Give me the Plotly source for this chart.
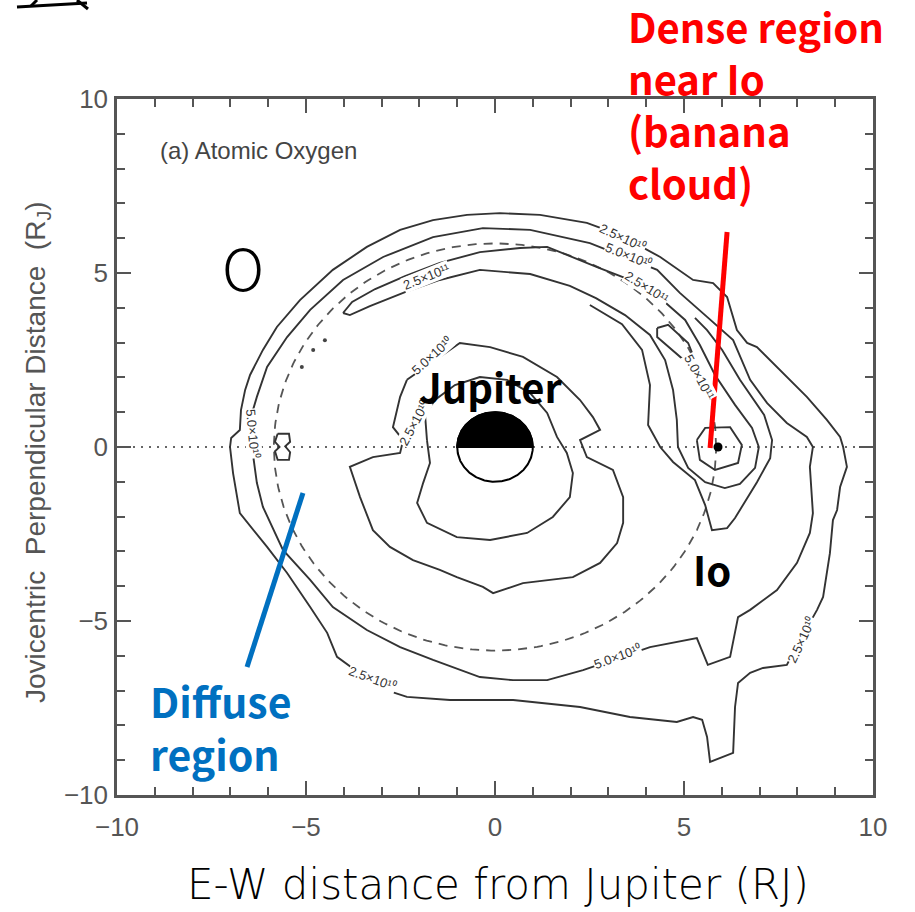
import numpy as np
import plotly.graph_objects as go

# ---- iso-density contours of atomic oxygen (positions in Jupiter radii) ----
# outermost 2.5e10 level
OUTER_25E10 = [(-7.01, 0.00), (-6.98, 0.26), (-6.75, 0.49), (-6.72, 1.06), (-6.61, 1.64), (-6.48, 2.07),
               (-6.14, 2.79), (-5.77, 3.45), (-5.16, 4.22), (-4.29, 5.09), (-3.39, 5.75), (-2.51, 6.24),
               (-1.64, 6.52), (-0.74, 6.67), (0.13, 6.72), (1.19, 6.67), (2.43, 6.44), (3.31, 6.09),
               (4.37, 5.46), (5.24, 4.80), (5.77, 4.71), (6.14, 4.31), (6.40, 3.36), (6.67, 2.99),
               (6.93, 2.87), (7.54, 2.21), (8.25, 1.44), (8.78, 0.78), (9.13, 0.29), (9.21, 0.00),
               (9.31, -0.57), (9.13, -1.15), (9.05, -1.81), (8.94, -2.10), (8.86, -3.05), (8.68, -4.31),
               (8.52, -4.68), (8.07, -5.55), (7.72, -6.26), (7.09, -6.35), (6.75, -6.49), (6.43, -6.78),
               (6.35, -7.47), (6.30, -8.79), (6.16, -8.85), (5.69, -9.05), (5.61, -8.33), (5.48, -7.84),
               (5.24, -7.76), (4.81, -7.90), (3.57, -7.76), (2.25, -7.47), (0.48, -7.27), (-1.19, -7.27),
               (-2.33, -7.18), (-3.04, -6.93), (-4.18, -6.03), (-4.44, -5.34), (-4.89, -4.60),
               (-5.50, -3.62), (-6.03, -2.87), (-6.75, -1.90), (-6.93, -0.75)]

# 5.0e10 level of the torus
TORUS_50E10 = [(-6.43, 0.00), (-6.48, 0.78), (-6.30, 1.44), (-6.03, 2.30), (-5.50, 3.16), (-4.89, 3.94),
               (-4.02, 4.80), (-2.96, 5.46), (-1.64, 6.03), (-0.32, 6.29), (0.93, 6.24), (2.51, 5.86),
               (4.29, 5.09), (4.89, 4.43), (5.61, 3.74), (6.30, 3.07), (6.75, 1.93), (7.20, 1.26),
               (7.72, 0.69), (8.25, 0.29), (8.41, 0.00), (8.33, -0.57), (8.41, -1.90), (8.33, -2.47),
               (7.99, -3.33), (7.46, -4.11), (6.75, -4.68), (6.43, -4.89), (6.22, -6.03), (5.63, -6.26),
               (5.34, -5.49), (4.10, -5.75), (2.33, -6.41), (1.38, -6.70), (0.48, -6.70), (-0.40, -6.61),
               (-1.64, -6.12), (-2.51, -5.75), (-3.39, -5.26), (-4.29, -4.60), (-4.89, -3.82),
               (-5.61, -2.96), (-6.14, -1.72), (-6.30, -1.03)]

# 2.5e11 banana-shaped cloud leading to Io
BANANA_25E11 = [(-4.02, 3.85), (-3.78, 4.17), (-3.17, 4.54), (-2.38, 4.91), (-1.46, 5.29), (-0.40, 5.60),
                (0.66, 5.72), (1.38, 5.75), (2.70, 5.17), (3.57, 4.80), (4.37, 4.28), (5.03, 3.65),
                (5.42, 2.93), (5.82, 2.07), (6.35, 1.21), (6.80, 0.55), (6.98, 0.00), (6.88, -0.60),
                (6.48, -1.06), (6.08, -1.18), (5.56, -1.01), (5.11, -0.60), (4.84, 0.00), (4.81, 0.78),
                (4.71, 1.64), (4.50, 2.50), (4.10, 3.22), (3.44, 3.79), (2.67, 4.28), (1.98, 4.63),
                (0.93, 4.97), (-0.40, 5.09), (-1.46, 4.80), (-2.38, 4.45), (-3.31, 4.05), (-3.84, 3.79)]

# 1.0e11 tongue around Io
TONGUE_10E11 = [(2.51, 4.08), (3.36, 3.53), (3.89, 2.79), (4.10, 1.78), (4.05, 0.63), (4.37, 0.00),
                (4.71, -0.43), (5.29, -0.95), (5.56, -1.67), (5.74, -2.39), (6.14, -2.33), (6.35, -2.04),
                (6.93, -1.01), (7.28, -0.32), (7.33, 0.20), (7.12, 0.92), (6.48, 1.93), (6.01, 2.79),
                (5.61, 3.36), (5.29, 3.71)]

# small 5.0e11 island inside the banana
ISLAND_50E11 = [(4.29, 3.42), (4.58, 3.51), (5.11, 2.99), (5.29, 2.50), (5.11, 2.39), (4.68, 2.79), (4.29, 3.16)]

# innermost ring around Io
IO_RING = [(5.34, 0.20), (5.56, 0.55), (6.22, 0.57), (6.53, 0.06), (6.43, -0.46), (5.82, -0.66), (5.42, -0.37)]

# depleted region around Jupiter: 5.0e10 and 2.5e10 levels
INNER_50E10 = [(-2.33, 1.93), (-0.93, 2.99), (-0.13, 2.87), (0.74, 2.59), (1.64, 2.01), (2.25, 1.35),
               (2.59, 0.86), (2.78, 0.49), (2.25, 0.20), (2.43, -0.29), (3.12, -0.66), (3.39, -1.44),
               (3.39, -2.18), (3.23, -2.76), (2.78, -3.33), (2.06, -3.74), (0.74, -3.91), (-0.05, -4.20),
               (-0.32, -4.02), (-1.01, -3.74), (-1.46, -3.53), (-2.17, -3.25), (-2.78, -2.87),
               (-3.04, -2.59), (-3.23, -2.39), (-3.57, -1.44), (-3.84, -0.57), (-3.23, -0.29),
               (-2.51, -0.17), (-2.43, 0.20), (-2.70, 0.57), (-2.51, 1.44)]
INNER_25E10 = [(-1.80, 0.20), (-1.72, -0.46), (-1.90, -1.03), (-2.06, -1.61), (-1.80, -2.18), (-1.01, -2.59),
               (-0.13, -2.67), (0.85, -2.47), (1.53, -2.01), (1.98, -1.44), (2.06, -0.75), (1.90, -0.17),
               (1.64, 0.29), (1.38, 0.98), (0.93, 1.55), (0.32, 1.93), (-0.40, 2.01), (-1.06, 1.78),
               (-1.59, 1.35), (-1.85, 0.92)]

# small closed blob on the west side of the orbit
WEST_BLOB = [(-5.75, 0.38), (-5.45, 0.38), (-5.42, 0.15), (-5.55, 0.02), (-5.42, -0.15), (-5.45, -0.37),
             (-5.75, -0.37), (-5.82, -0.12), (-5.70, 0.00), (-5.82, 0.15)]
WEST_SPECKS = [(-4.81, 2.79), (-4.50, 3.07), (-5.11, 2.30)]

# contour labels: text, x, y, rotation
LEVEL_LABELS = [("2.5×10¹⁰", 3.36, 6.01, 25), ("5.0×10¹⁰", 3.52, 5.49, 22), ("2.5×10¹¹", 4.02, 4.57, 32),
                ("2.5×10¹¹", -1.80, 4.89, -22), ("5.0×10¹¹", 5.42, 2.01, 62), ("5.0×10¹⁰", -1.67, 2.64, -42),
                ("2.5×10¹⁰", -2.12, 0.69, -62), ("5.0×10¹⁰", -6.40, 0.40, 85), ("2.5×10¹⁰", -3.25, -6.64, 20),
                ("5.0×10¹⁰", 3.25, -6.03, -20), ("2.5×10¹⁰", 8.10, -5.55, -65)]

IO_ORBIT_RADIUS = 5.85
JUPITER_RADIUS = 1.0
IO_POSITION = (5.90, 0.0)

X_TICKS = [-10, -5, 0, 5, 10]
Y_TICKS = [-10, -5, 0, 5, 10]

LINE_COL = "#333333"
AXIS_COL = "#555555"


def closed(points):
    pts = list(points) + [points[0]]
    return [p[0] for p in pts], [p[1] for p in pts]


def opened(points):
    return [p[0] for p in points], [p[1] for p in points]


fig = go.Figure()

# equatorial reference line
fig.add_trace(go.Scatter(x=[-10, 10], y=[0, 0], mode="lines",
                         line=dict(color="#666666", width=2, dash="2px,6px"), hoverinfo="skip"))

# Io orbit
theta = np.linspace(0, 2 * np.pi, 361)
fig.add_trace(go.Scatter(x=IO_ORBIT_RADIUS * np.cos(theta), y=IO_ORBIT_RADIUS * np.sin(theta), mode="lines",
                         line=dict(color="#555555", width=1.8, dash="9px,7px"), hoverinfo="skip"))

for pts in [OUTER_25E10, TORUS_50E10, BANANA_25E11, ISLAND_50E11, IO_RING, INNER_50E10, INNER_25E10, WEST_BLOB]:
    xs, ys = closed(pts)
    fig.add_trace(go.Scatter(x=xs, y=ys, mode="lines", line=dict(color=LINE_COL, width=1.9), hoverinfo="skip"))

xs, ys = opened(TONGUE_10E11)
fig.add_trace(go.Scatter(x=xs, y=ys, mode="lines", line=dict(color=LINE_COL, width=1.9), hoverinfo="skip"))

xs, ys = opened(WEST_SPECKS)
fig.add_trace(go.Scatter(x=xs, y=ys, mode="markers", marker=dict(color="#444444", size=4), hoverinfo="skip"))

# Jupiter: lit lower half, dark upper half
fig.add_trace(go.Scatter(x=JUPITER_RADIUS * np.cos(theta), y=JUPITER_RADIUS * np.sin(theta), mode="lines",
                         fill="toself", fillcolor="white", line=dict(color="black", width=2), hoverinfo="skip"))
half = np.linspace(0, np.pi, 181)
fig.add_trace(go.Scatter(x=np.append(JUPITER_RADIUS * np.cos(half), JUPITER_RADIUS),
                         y=np.append(JUPITER_RADIUS * np.sin(half), 0), mode="lines",
                         fill="toself", fillcolor="black", line=dict(color="black", width=2), hoverinfo="skip"))

# Io
fig.add_trace(go.Scatter(x=[IO_POSITION[0]], y=[IO_POSITION[1]], mode="markers",
                         marker=dict(color="black", size=9), hoverinfo="skip"))

annotations = []
for text, x, y, ang in LEVEL_LABELS:
    annotations.append(dict(x=x, y=y, xref="x", yref="y", text=text, showarrow=False, textangle=ang,
                            xanchor="center", yanchor="middle",
                            font=dict(family="Liberation Sans", size=13, color="#333333"),
                            bgcolor="white", borderpad=0))

annotations += [
    dict(x=-8.92, y=8.53, xref="x", yref="y", text="(a) Atomic Oxygen", showarrow=False,
         xanchor="left", yanchor="middle",
         font=dict(family="Liberation Sans", size=24, color="#444444")),
    dict(x=-0.11, y=1.75, xref="x", yref="y", text="<b>Jupiter</b>", showarrow=False,
         xanchor="center", yanchor="middle",
         font=dict(family="Noto Sans CJK JP", size=40, color="black")),
    dict(x=5.74, y=-3.51, xref="x", yref="y", text="<b>Io</b>", showarrow=False,
         xanchor="center", yanchor="middle",
         font=dict(family="Noto Sans CJK JP", size=40, color="black")),
    dict(x=-6.67, y=5.20, xref="x", yref="y", text="O", showarrow=False,
         xanchor="center", yanchor="middle",
         font=dict(family="Noto Sans CJK JP", size=58, color="black", weight=300)),
    # axis titles
    dict(x=0.504, y=-0.1293, xref="paper", yref="paper", text="E-W distance from Jupiter (RJ)",
         showarrow=False, xanchor="center", yanchor="middle",
         font=dict(family="DejaVu Sans", size=42, color="black", weight=200)),
    dict(x=-0.1058, y=0.4928, xref="paper", yref="paper",
         text="Jovicentric\u00a0\u00a0Perpendicular Distance\u00a0\u00a0(R<sub>J</sub>)",
         showarrow=False, textangle=-90, xanchor="center", yanchor="middle",
         font=dict(family="Liberation Sans", size=28, color="#555555")),
    # callouts
    dict(x=0.6733, y=0.9935, xref="paper", yref="paper",
         text="<b>Dense region<br>near Io<br>(banana<br>cloud)</b>",
         showarrow=False, xanchor="left", yanchor="middle", align="left",
         font=dict(family="Noto Sans CJK JP", size=40, color="#FF0000")),
    dict(x=0.041, y=0.0991, xref="paper", yref="paper", text="<b>Diffuse<br>region</b>",
         showarrow=False, xanchor="left", yanchor="middle", align="left",
         font=dict(family="Noto Sans CJK JP", size=41, color="#0070C0")),
]

shapes = [
    dict(type="line", xref="x", yref="y", x0=6.14, y0=6.18, x1=5.69, y1=-0.03,
         line=dict(color="#FF0000", width=5)),
    dict(type="line", xref="x", yref="y", x0=-5.08, y0=-1.32, x1=-6.56, y1=-6.32,
         line=dict(color="#0070C0", width=5)),
    # partial handwritten glyph at the top edge
    dict(type="line", xref="paper", yref="paper", x0=-0.1323, y0=1.1322, x1=-0.0397, y1=1.1379,
         line=dict(color="black", width=3)),
    dict(type="line", xref="paper", yref="paper", x0=-0.0529, y0=1.1422, x1=-0.0384, y1=1.1293,
         line=dict(color="black", width=3)),
    dict(type="line", xref="paper", yref="paper", x0=-0.1058, y0=1.1422, x1=-0.1138, y1=1.1336,
         line=dict(color="black", width=3)),
]

axis_common = dict(range=[-10, 10], showgrid=False, zeroline=False, showline=True, linecolor=AXIS_COL,
                   linewidth=2.5, mirror="ticks", ticks="inside", ticklen=14, tickwidth=2, tickcolor=AXIS_COL,
                   tickfont=dict(family="Liberation Sans", size=26, color=AXIS_COL),
                   minor=dict(dtick=1, ticks="inside", ticklen=8, tickwidth=2, tickcolor=AXIS_COL,
                              showgrid=False))

fig.update_layout(
    width=915, height=912, margin=dict(l=117, r=42, t=99, b=117),
    plot_bgcolor="white", paper_bgcolor="white", showlegend=False,
    xaxis=dict(tickvals=X_TICKS, ticklabelstandoff=7, **axis_common),
    yaxis=dict(tickvals=Y_TICKS, ticklabelstandoff=1, **axis_common),
    annotations=annotations, shapes=shapes,
)

fig.write_html("out.html")
